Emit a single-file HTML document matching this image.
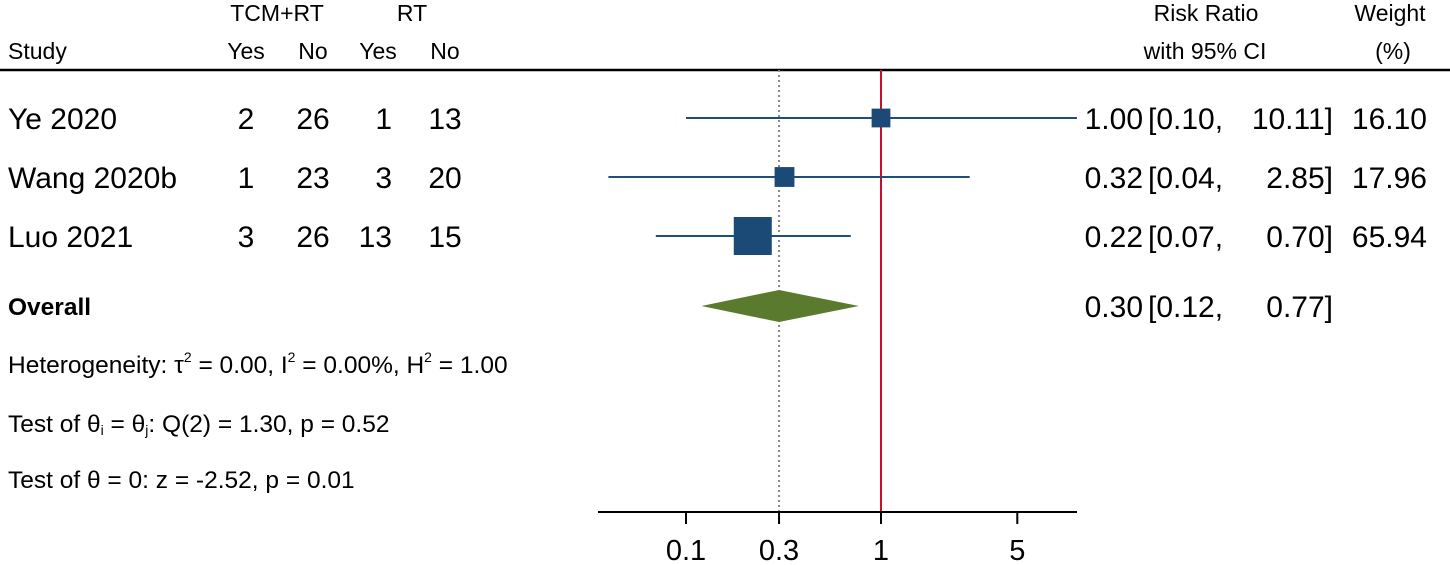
<!DOCTYPE html>
<html><head><meta charset="utf-8"><style>
html,body{margin:0;padding:0;background:#fff;}
svg{display:block;font-family:"Liberation Sans",Arial,sans-serif;}
</style></head><body>
<svg id="plot" width="1450" height="565" viewBox="0 0 1450 565">
<g font-size="23" fill="#000">
<text x="277" y="21" text-anchor="middle">TCM+RT</text>
<text x="412" y="21" text-anchor="middle">RT</text>
<text x="8" y="59">Study</text>
<text x="246" y="59" text-anchor="middle">Yes</text>
<text x="313" y="59" text-anchor="middle">No</text>
<text x="378" y="59" text-anchor="middle">Yes</text>
<text x="445" y="59" text-anchor="middle">No</text>
<text x="1206" y="21" text-anchor="middle">Risk Ratio</text>
<text x="1205" y="59" text-anchor="middle">with 95% CI</text>
<text x="1390" y="21" text-anchor="middle">Weight</text>
<text x="1393" y="59" text-anchor="middle">(%)</text>
</g>
<line x1="0" y1="70" x2="1450" y2="70" stroke="#000" stroke-width="2.5"/>
<g id="marks"></g>
<g font-size="24.5" fill="#000">
<text x="8" y="373">Heterogeneity: τ<tspan dy="-11" font-size="14">2</tspan><tspan dy="11"> = 0.00, I</tspan><tspan dy="-11" font-size="14">2</tspan><tspan dy="11"> = 0.00%, H</tspan><tspan dy="-11" font-size="14">2</tspan><tspan dy="11"> = 1.00</tspan></text>
<text x="8" y="432">Test of θ<tspan dy="3" font-size="14">i</tspan><tspan dy="-3"> = θ</tspan><tspan dy="3" font-size="14">j</tspan><tspan dy="-3">: Q(2) = 1.30, p = 0.52</tspan></text>
<text x="8" y="488">Test of θ = 0: z = -2.52, p = 0.01</text>
</g>
</svg>
<script>
const studies = ["Ye 2020", "Wang 2020b", "Luo 2021"];
const tcmYes = [2, 1, 3];
const tcmNo = [26, 23, 26];
const rtYes = [1, 3, 13];
const rtNo = [13, 20, 15];
const rr = [1.00, 0.32, 0.22];
const lo = [0.10, 0.04, 0.07];
const hi = [10.11, 2.85, 0.70];
const weights = [16.10, 17.96, 65.94];
const overall = [0.30, 0.12, 0.77];
const ticks = [0.1, 0.3, 1, 5];
const tickLabels = ["0.1", "0.3", "1", "5"];

const NS = "http://www.w3.org/2000/svg";
const g = document.getElementById("marks");
const AX0 = 598, AX1 = 1077;
const FS = 30;
function xs(v){ return 881 + Math.log10(v) * 195; }
function clampX(x){ return Math.max(AX0, Math.min(AX1, x)); }
function el(tag, attrs, parent){
  const e = document.createElementNS(NS, tag);
  for (const k in attrs) e.setAttribute(k, attrs[k]);
  (parent || g).appendChild(e); return e;
}
function txt(x, y, s, size, anchor, parent){
  const t = el("text", {x:x, y:y, "font-size":size, "text-anchor":anchor||"start", fill:"#000"}, parent);
  t.textContent = s; return t;
}
const rowY = [118, 177, 236];
const fmt = v => v.toFixed(2);

const ov = el("line", {x1:xs(overall[0]), y1:70, x2:xs(overall[0]), y2:512, stroke:"#888", "stroke-width":2, "stroke-dasharray":"2,3"});


const nl = el("line", {x1:xs(1), y1:70, x2:xs(1), y2:512, stroke:"#c8102e", "stroke-width":2});



const ax = el("line", {x1:AX0, y1:512, x2:AX1, y2:512, stroke:"#000", "stroke-width":2});


ticks.forEach((t, i) => {
  const tk = el("line", {x1:xs(t), y1:512, x2:xs(t), y2:524, stroke:"#000", "stroke-width":2});
  
  
  const tl = txt(xs(t), 560, tickLabels[i], 29, "middle");
  
  
});

const maxW = Math.max(...weights);
studies.forEach((s, i) => {
  const y = rowY[i];
  const row = el("g", {});
  
  
  txt(8, y+11, s, FS, "start", row);
  txt(246, y+11, String(tcmYes[i]), FS, "middle", row);
  txt(313, y+11, String(tcmNo[i]), FS, "middle", row);
  txt(392, y+11, String(rtYes[i]), FS, "end", row);
  txt(445, y+11, String(rtNo[i]), FS, "middle", row);
  const ci = el("line", {x1:clampX(xs(lo[i])), y1:y, x2:clampX(xs(hi[i])), y2:y, stroke:"#1f4e79", "stroke-width":2}, row);
  
  
  const sz = 38 * Math.sqrt(weights[i] / maxW);
  const sq = el("rect", {x:xs(rr[i]) - sz/2, y:y - sz/2, width:sz, height:sz, fill:"#1a4a75"}, row);
  
  
  txt(1143, y+11, fmt(rr[i]), FS, "end", row);
  txt(1148, y+11, "[" + fmt(lo[i]) + ",", FS, "start", row);
  txt(1333, y+11, fmt(hi[i]) + "]", FS, "end", row);
  txt(1427, y+11, fmt(weights[i]), FS, "end", row);
});

const oy = 306;
const og = el("g", {});


const ot = txt(8, oy+9, "Overall", 24.5, "start", og); ot.setAttribute("font-weight", "bold");
const dm = el("polygon", {points:[xs(overall[1])+","+oy, xs(overall[0])+","+(oy-16), xs(overall[2])+","+oy, xs(overall[0])+","+(oy+16)].join(" "), fill:"#5a7a2e"}, og);


txt(1143, oy+11, fmt(overall[0]), FS, "end", og);
txt(1148, oy+11, "[" + fmt(overall[1]) + ",", FS, "start", og);
txt(1333, oy+11, fmt(overall[2]) + "]", FS, "end", og);
</script>
</body></html>
